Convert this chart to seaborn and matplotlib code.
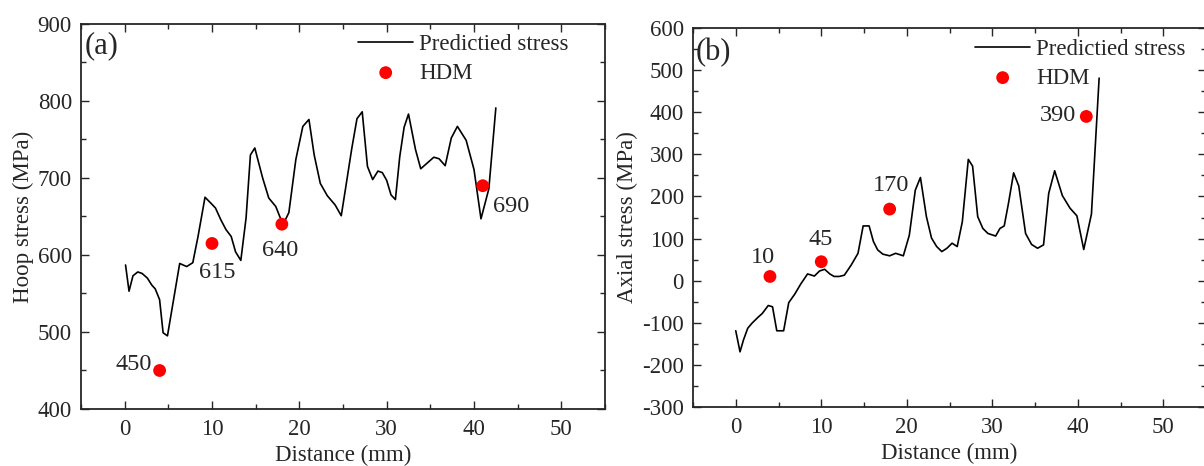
import numpy as np
import pandas as pd
import matplotlib
matplotlib.use("Agg")
import matplotlib.pyplot as plt
import seaborn as sns
from matplotlib.ticker import MultipleLocator

# ---------------- data ----------------
hoop_x = [0.1, 0.5, 0.95, 1.5, 2.0, 2.6, 3.1, 3.5, 4.0, 4.4, 4.9, 5.6, 6.3, 7.1, 7.8,
          8.4, 9.2, 9.9, 10.4, 11.0, 11.6, 12.2, 12.7, 13.3, 13.9, 14.4, 14.9, 15.8,
          16.5, 17.3, 17.9, 18.2, 18.8, 19.6, 20.4, 21.1, 21.7, 22.4, 23.2, 24.1, 24.8,
          25.3, 26.0, 26.6, 27.2, 27.8, 28.4, 29.0, 29.5, 30.0, 30.5, 31.0, 31.5, 32.0,
          32.5, 33.3, 33.9, 34.7, 35.4, 36.0, 36.7, 37.4, 38.1, 39.1, 40.0, 40.8, 41.7, 42.5]
hoop_y = [587, 553, 573, 578, 576, 570, 561, 556, 542, 499, 495, 542, 589, 585, 590,
          624, 675, 667, 661, 646, 633, 624, 604, 593, 648, 730, 739, 700,
          674, 663, 646, 641, 655, 724, 767, 776, 730, 693, 677, 665, 651,
          687, 738, 777, 786, 715, 698, 709, 707, 697, 678, 672, 728, 766,
          783, 737, 712, 720, 727, 725, 716, 752, 767, 749, 711, 647, 686, 791]

axial_x = [0.0, 0.5, 0.9, 1.4, 1.9, 2.6, 3.1, 3.8, 4.3, 4.8, 5.6, 6.2, 6.9, 7.6, 8.4,
           9.2, 9.8, 10.4, 11.0, 11.5, 12.1, 12.7, 13.5, 14.3, 14.9, 15.6, 16.1, 16.6,
           17.2, 18.0, 18.7, 19.6, 20.3, 21.0, 21.6, 22.3, 22.9, 23.5, 24.1, 24.7, 25.3,
           25.9, 26.5, 27.2, 27.7, 28.3, 28.9, 29.5, 30.4, 30.9, 31.4, 31.9, 32.5, 33.1,
           33.9, 34.6, 35.3, 36.0, 36.6, 37.3, 38.2, 39.1, 39.9, 40.7, 41.6, 42.5]
axial_y = [-119, -169, -141, -113, -101, -87, -78, -59, -62, -119, -119, -52, -32, -8, 16,
           11, 23, 27, 16, 10, 10, 13, 37, 65, 130, 130, 93, 73,
           63, 59, 65, 59, 108, 215, 245, 152, 101, 81, 69, 77, 89,
           81, 140, 288, 272, 152, 124, 112, 106, 124, 130, 184, 256, 225,
           112, 86, 77, 85, 207, 261, 202, 172, 154, 74, 158, 481]

hdm_x = [4, 10, 18, 41]
hdm_hoop = [450, 615, 640, 690]
hdm_axial = [10, 45, 170, 390]

hoop_labels = ["450", "615", "640", "690"]
axial_labels = ["10", "45", "170", "390"]

# label offsets (points) relative to their HDM marker
hoop_offsets = [(-19, 0.5), (3.6, -24.7), (-1.2, -22.8), (20.4, -19.2)]
axial_offsets = [(-5.3, 9.6), (-0.6, 12.0), (1.2, 12.7), (-20.7, -3.6)]

# ---------------- style ----------------
sns.set_style("ticks")
plt.rcParams["font.family"] = ["Liberation Serif", "DejaVu Serif"]
plt.rcParams["mathtext.fontset"] = "stix"
plt.rcParams["axes.unicode_minus"] = False
FS = 16.5

fig = plt.figure(figsize=(12.04, 4.66), dpi=100)
W, H = 1204, 466
ax1 = fig.add_axes([81 / W, (H - 409) / H, (605 - 81) / W, (409 - 24) / H])
ax2 = fig.add_axes([693 / W, (H - 407) / H, (1206 - 693) / W, (407 - 28) / H])


def draw(ax, lx, ly, px, py, labels, offsets, ylim, ymajor, ylabel, tag, tag_y,
         leg_x, leg_y):
    sns.lineplot(x=lx, y=ly, ax=ax, color="black", linewidth=1.2, sort=False,
                 estimator=None, label="Predictied stress")
    sns.scatterplot(x=px, y=py, ax=ax, color="#ff0000", s=85, edgecolor="none",
                    label="HDM", zorder=3)
    for x, y, t, (dx, dy) in zip(px, py, labels, offsets):
        ax.annotate(t, (x, y), xytext=(dx, dy), textcoords="offset points",
                    ha="center", va="baseline", fontsize=17.5)
    ax.set_xlim(-5, 55)
    ax.set_ylim(*ylim)
    ax.xaxis.set_major_locator(MultipleLocator(10))
    ax.xaxis.set_minor_locator(MultipleLocator(5))
    ax.yaxis.set_major_locator(MultipleLocator(ymajor))
    ax.yaxis.set_minor_locator(MultipleLocator(ymajor / 2))
    ax.tick_params(which="both", direction="in", top=True, right=True,
                   width=1.0, labelsize=FS, pad=6.5)
    ax.tick_params(axis="x", which="both", pad=7.5)
    ax.tick_params(which="major", length=6)
    ax.tick_params(which="minor", length=3.5)
    for s in ax.spines.values():
        s.set_linewidth(1.3)
    ax.set_xlabel("Distance (mm)", fontsize=FS, labelpad=3.2)
    ax.set_ylabel(ylabel, fontsize=FS, labelpad=3)
    ax.text(0.006, tag_y, tag, transform=ax.transAxes, fontsize=22,
            ha="left", va="center")
    h, l = ax.get_legend_handles_labels()
    ax.legend(h, l, loc="upper left", bbox_to_anchor=(leg_x, leg_y), frameon=False,
              fontsize=FS, handlelength=2.4, handletextpad=0.25, labelspacing=0.33,
              borderpad=0, borderaxespad=0)


draw(ax1, hoop_x, hoop_y, hdm_x, hdm_hoop, hoop_labels, hoop_offsets,
     (400, 900), 100, "Hoop stress (MPa)", "(a)", 0.943, 0.529, 0.974)
draw(ax2, axial_x, axial_y, hdm_x, hdm_axial, axial_labels, axial_offsets,
     (-300, 600), 100, "Axial stress (MPa)", "(b)", 0.935, 0.55, 0.971)

fig.savefig("out.png", dpi=100)
